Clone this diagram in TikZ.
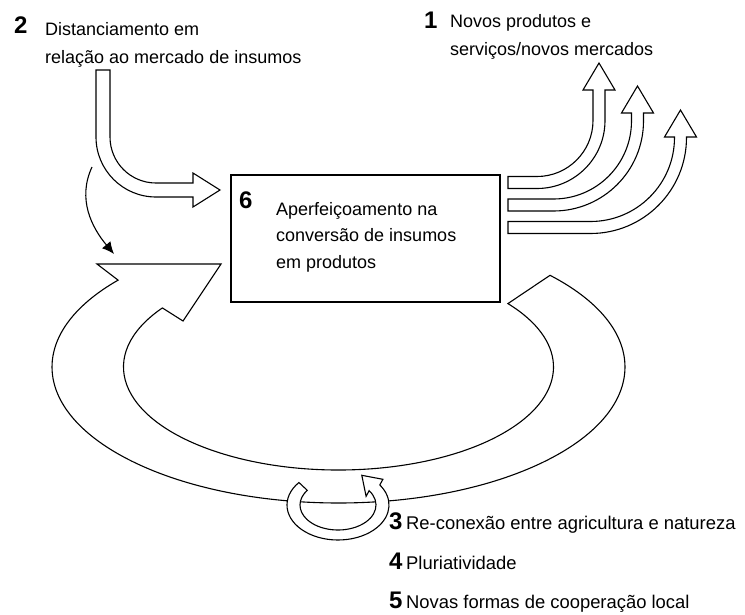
\documentclass[tikz,border=0pt]{standalone}
\usepackage{fontspec}
\setmainfont{Liberation Sans}
\usetikzlibrary{calc}
\usetikzlibrary{arrows.meta}

\tikzset{
  band/.style={draw, line width=1.1pt, fill=white, line join=miter},
  num/.style={font=\fontsize{24}{24}\selectfont\bfseries, inner sep=0pt, anchor=base west},
  txt/.style={font=\fontsize{18}{28}\selectfont, inner sep=0pt, anchor=base west, align=left},
}

\begin{document}
\begin{tikzpicture}[x=1pt,y=1pt]
\useasboundingbox (0,0) rectangle (745,-614);

\coordinate (loopc) at (338.5,-367);
\coordinate (spinc) at (338,-505);

% big loop back to the box
\draw[band] ($(loopc)+(140.3:286.5 and 136)$) -- (97,-264) -- (221,-264) -- (183,-321)
  -- ($(loopc)+(145:215 and 103)$) arc[start angle=145,end angle=398,x radius=215,y radius=103]
  -- ($(loopc)+(42.4:286.5 and 136)$) arc[start angle=42.4,end angle=-219.7,x radius=286.5,y radius=136]
  -- cycle;

% small turning arrow
\draw[band] ($(spinc)+(140:51 and 35)$) arc[start angle=140,end angle=395,x radius=51,y radius=35]
  -- (382.9,-479.3) -- (361.8,-475.3) -- (366.1,-496.3)
  -- ($(spinc)+(35:38 and 25)$) arc[start angle=395,end angle=144,x radius=38,y radius=25]
  -- cycle;

\node[draw, line width=1.1pt, minimum width=269pt, minimum height=127pt, inner sep=0pt] (box) at (365.5,-238.5) {};
\node[num] (n6) at (239,-208) {6};
\node[txt, font=\fontsize{18}{26.5}\selectfont] (t6) at (276,-268) {Aperfeiçoamento na\\conversão de insumos\\em produtos};

% arrow coming in
\draw[band] (96,-70) -- (110,-70) -- (110,-137) arc[start angle=180,end angle=270,radius=46]
  -- (193,-183) -- (193,-173) -- (220,-190) -- (193,-207) -- (193,-197) -- (156,-197)
  arc[start angle=270,end angle=180,radius=60] -- cycle;

% arrows going out
\foreach \yc/\xc/\r/\hb in {182.5/599/62/90, 205/637.5/84/113, 227.5/680.5/90/137}{
  \draw[band] (508,{-\yc+6}) -- ({\xc-\r},{-\yc+6})
    arc[start angle=270,end angle=360,radius={\r-6}]
    -- ({\xc-6},-\hb) -- ({\xc-16},-\hb) -- (\xc,{-\hb+27}) -- ({\xc+16},-\hb)
    -- ({\xc+6},-\hb) -- ({\xc+6},{-\yc+\r})
    arc[start angle=0,end angle=-90,radius={\r+6}] -- (508,{-\yc-6}) -- cycle;
}

\coordinate (c1) at (92,-167);
\coordinate (c2) at (114,-254);
\draw[line width=1.1pt, -{Latex[length=12pt,width=11pt]}] (c1) to[out=245,in=130] (c2);

\node[num] (n2) at (14,-33) {2};
\node[txt] (t2) at (45,-63) {Distanciamento em\\relação ao mercado de insumos};
\node[num] (n1) at (424,-28) {1};
\node[txt, font=\fontsize{18}{27.5}\selectfont] (t1) at (450,-55) {Novos produtos e\\serviços/novos mercados};
\node[num] (n3) at (389,-529) {3};
\node[txt, font=\fontsize{18.4}{20}\selectfont] (t3) at (406,-529) {Re-conexão entre agricultura e natureza};
\node[num] (n4) at (389,-569) {4};
\node[txt, font=\fontsize{18.4}{20}\selectfont] (t4) at (406,-569) {Pluriatividade};
\node[num] (n5) at (389,-608) {5};
\node[txt, font=\fontsize{18.4}{20}\selectfont] (t5) at (406,-608) {Novas formas de cooperação local};

\end{tikzpicture}
\end{document}
